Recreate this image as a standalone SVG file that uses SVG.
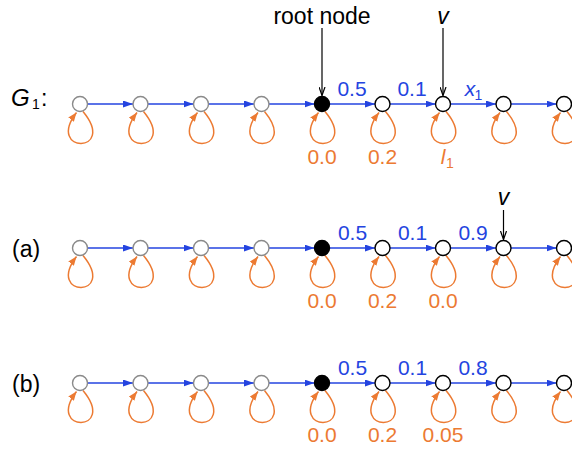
<svg xmlns="http://www.w3.org/2000/svg" width="572" height="449" viewBox="0 0 572 449">
<defs>
<style>
text{font-family:"Liberation Sans",Arial,sans-serif;font-size:21px}
.bl{fill:#2444e0}
.or{fill:#ec7a32}
.k{fill:#000}
.big{font-size:23px}
.it{font-style:italic}
.sub{font-size:14px}
.ng{fill:#fff;stroke:#8a8a8a;stroke-width:1.4}
.nw{fill:#fff;stroke:#000;stroke-width:1.4}
.nb{fill:#000;stroke:#000;stroke-width:1.4}
.e{stroke:#2444e0;stroke-width:1.5;fill:none;marker-end:url(#ab)}
.l{stroke:#ec7a32;stroke-width:1.5;fill:none;marker-end:url(#ao)}
.p{stroke:#000;stroke-width:1.2;fill:none;marker-end:url(#ak)}
</style>
<marker id="ab" markerUnits="userSpaceOnUse" markerWidth="10" markerHeight="7" refX="10" refY="3.5" orient="auto"><path d="M0,0 L10,3.5 L0,7 z" fill="#2444e0"/></marker>
<marker id="ao" markerUnits="userSpaceOnUse" markerWidth="9" markerHeight="7" refX="9" refY="3.5" orient="auto"><path d="M0,0 L9,3.5 L0,7 z" fill="#ec7a32"/></marker>
<marker id="ak" markerUnits="userSpaceOnUse" markerWidth="9" markerHeight="7" refX="8.5" refY="3.5" orient="auto"><path d="M0,0.5 L8.5,3.5 L0,6.5" fill="none" stroke="#000" stroke-width="1.2"/></marker>
<path id="loop" d="M3,7.5 C38,50 -35,50 -3.5,8.5"/>
</defs>

<g id="labels-left">
<text x="11" y="106" class="k it" style="font-size:24px">G</text><text x="32" y="109" class="k sub">1</text><text x="41" y="106" class="k big">:</text>
<text x="12" y="257" class="k big">(a)</text>
<text x="12" y="392" class="k big">(b)</text>
</g>

<g id="connectors">
<!-- row 1 -->
<path class="e" d="M87.5,104H133"/><path class="e" d="M148,104H193.5"/><path class="e" d="M208.5,104H254"/><path class="e" d="M269,104H314.5"/><path class="e" d="M329.5,104H375"/><path class="e" d="M390,104H435.5"/><path class="e" d="M450.5,104H496"/><path class="e" d="M511,104H556.5"/>
<use href="#loop" class="l" x="80" y="104"/><use href="#loop" class="l" x="140.5" y="104"/><use href="#loop" class="l" x="201" y="104"/><use href="#loop" class="l" x="261.5" y="104"/><use href="#loop" class="l" x="322" y="104"/><use href="#loop" class="l" x="382.5" y="104"/><use href="#loop" class="l" x="443" y="104"/><use href="#loop" class="l" x="503.5" y="104"/><use href="#loop" class="l" x="564" y="104"/>
<path class="p" d="M322,28V95.5"/><path class="p" d="M443,28V95.5"/>
<!-- row 2 -->
<path class="e" d="M87.5,248H133"/><path class="e" d="M148,248H193.5"/><path class="e" d="M208.5,248H254"/><path class="e" d="M269,248H314.5"/><path class="e" d="M329.5,248H375"/><path class="e" d="M390,248H435.5"/><path class="e" d="M450.5,248H496"/><path class="e" d="M511,248H556.5"/>
<use href="#loop" class="l" x="80" y="248"/><use href="#loop" class="l" x="140.5" y="248"/><use href="#loop" class="l" x="201" y="248"/><use href="#loop" class="l" x="261.5" y="248"/><use href="#loop" class="l" x="322" y="248"/><use href="#loop" class="l" x="382.5" y="248"/><use href="#loop" class="l" x="443" y="248"/><use href="#loop" class="l" x="503.5" y="248"/><use href="#loop" class="l" x="564" y="248"/>
<path class="p" d="M503.5,210V239.5"/>
<!-- row 3 -->
<path class="e" d="M87.5,383H133"/><path class="e" d="M148,383H193.5"/><path class="e" d="M208.5,383H254"/><path class="e" d="M269,383H314.5"/><path class="e" d="M329.5,383H375"/><path class="e" d="M390,383H435.5"/><path class="e" d="M450.5,383H496"/><path class="e" d="M511,383H556.5"/>
<use href="#loop" class="l" x="80" y="383"/><use href="#loop" class="l" x="140.5" y="383"/><use href="#loop" class="l" x="201" y="383"/><use href="#loop" class="l" x="261.5" y="383"/><use href="#loop" class="l" x="322" y="383"/><use href="#loop" class="l" x="382.5" y="383"/><use href="#loop" class="l" x="443" y="383"/><use href="#loop" class="l" x="503.5" y="383"/><use href="#loop" class="l" x="564" y="383"/>
</g>

<g id="row1-nodes">
<circle id="g1n1" class="ng" cx="80" cy="104" r="7.5"/>
<circle id="g1n2" class="ng" cx="140.5" cy="104" r="7.5"/>
<circle id="g1n3" class="ng" cx="201" cy="104" r="7.5"/>
<circle id="g1n4" class="ng" cx="261.5" cy="104" r="7.5"/>
<circle id="g1n5" class="nb" cx="322" cy="104" r="7.5"/>
<circle id="g1n6" class="nw" cx="382.5" cy="104" r="7.5"/>
<circle id="g1n7" class="nw" cx="443" cy="104" r="7.5"/>
<circle id="g1n8" class="nw" cx="503.5" cy="104" r="7.5"/>
<circle id="g1n9" class="nw" cx="564" cy="104" r="7.5"/>
</g>
<g id="row2-nodes">
<circle id="an1" class="ng" cx="80" cy="248" r="7.5"/>
<circle id="an2" class="ng" cx="140.5" cy="248" r="7.5"/>
<circle id="an3" class="ng" cx="201" cy="248" r="7.5"/>
<circle id="an4" class="ng" cx="261.5" cy="248" r="7.5"/>
<circle id="an5" class="nb" cx="322" cy="248" r="7.5"/>
<circle id="an6" class="nw" cx="382.5" cy="248" r="7.5"/>
<circle id="an7" class="nw" cx="443" cy="248" r="7.5"/>
<circle id="an8" class="nw" cx="503.5" cy="248" r="7.5"/>
<circle id="an9" class="nw" cx="564" cy="248" r="7.5"/>
</g>
<g id="row3-nodes">
<circle id="bn1" class="ng" cx="80" cy="383" r="7.5"/>
<circle id="bn2" class="ng" cx="140.5" cy="383" r="7.5"/>
<circle id="bn3" class="ng" cx="201" cy="383" r="7.5"/>
<circle id="bn4" class="ng" cx="261.5" cy="383" r="7.5"/>
<circle id="bn5" class="nb" cx="322" cy="383" r="7.5"/>
<circle id="bn6" class="nw" cx="382.5" cy="383" r="7.5"/>
<circle id="bn7" class="nw" cx="443" cy="383" r="7.5"/>
<circle id="bn8" class="nw" cx="503.5" cy="383" r="7.5"/>
<circle id="bn9" class="nw" cx="564" cy="383" r="7.5"/>
</g>

<g id="texts" text-anchor="middle">
<text x="322" y="24" class="k big">root node</text>
<text x="443" y="24" class="k it big">v</text>
<text x="352" y="96" class="bl">0.5</text>
<text x="412" y="96" class="bl">0.1</text>
<text x="470" y="96" class="bl it">x</text><text x="478.5" y="100" class="bl sub">1</text>
<text x="322" y="163.5" class="or">0.0</text>
<text x="382.5" y="163.5" class="or">0.2</text>
<text x="443" y="163.5" class="or it">l</text><text x="450" y="168" class="or sub">1</text>

<text x="503.5" y="205" class="k it big">v</text>
<text x="352.5" y="239.5" class="bl">0.5</text>
<text x="412.5" y="239.5" class="bl">0.1</text>
<text x="473" y="239.5" class="bl">0.9</text>
<text x="322" y="307.5" class="or">0.0</text>
<text x="382.5" y="307.5" class="or">0.2</text>
<text x="443" y="307.5" class="or">0.0</text>

<text x="352.5" y="375" class="bl">0.5</text>
<text x="412.5" y="375" class="bl">0.1</text>
<text x="473" y="375" class="bl">0.8</text>
<text x="322" y="442" class="or">0.0</text>
<text x="382.5" y="442" class="or">0.2</text>
<text x="443" y="442" class="or">0.05</text>
</g>
</svg>
